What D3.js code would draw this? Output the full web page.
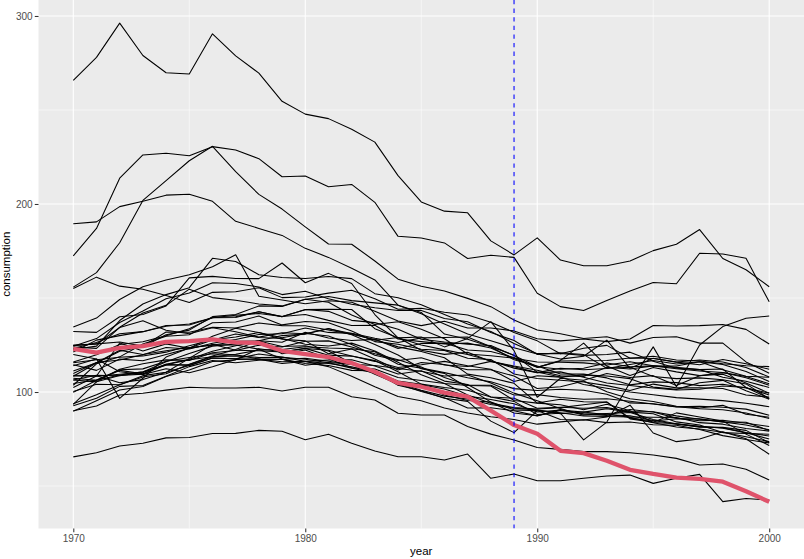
<!DOCTYPE html>
<html>
<head>
<meta charset="utf-8">
<script src="https://cdn.jsdelivr.net/npm/d3@7"></script>
<style>
  html, body { margin: 0; padding: 0; background: #ffffff; }
  svg { display: block; font-family: "Liberation Sans", Arial, Helvetica, sans-serif; }
</style>
</head>
<body>
<svg id="chart" width="804" height="559"></svg>
<script>
// Per-capita cigarette consumption (packs), 1970-2000
const years = [1970,1971,1972,1973,1974,1975,1976,1977,1978,1979,1980,1981,1982,1983,1984,1985,
               1986,1987,1988,1989,1990,1991,1992,1993,1994,1995,1996,1997,1998,1999,2000];

const alabama      = [89.8,95.4,101.1,102.9,108.2,111.7,116.2,117.1,123,121.4,123.2,119.6,119.1,116.3,113,114.5,116.3,114,112.1,105.6,108.6,107.9,109.1,108.5,107.1,102.6,101.4,104.9,106.2,100.7,96.2];
const arkansas     = [100.3,104.1,103.9,108,109.7,114.8,119.1,122.6,127.3,126.5,131.8,128.7,127.4,128,123.1,125.8,126,122.3,121.5,118.3,113.1,116.8,126,113.8,108.8,113,110.7,108.7,109.5,104.8,99.4];
const colorado     = [124.8,125.5,134.3,137.9,132.8,131,134.2,132,129.2,131.5,131,133.8,130.5,125.3,119.7,112.4,109.9,102.4,94.6,88.8,87.4,90.2,88.3,88.6,89.1,85.4,83.1,81.3,81.2,79.6,73];
const connecticut  = [120,117.6,110.8,109.3,112.4,110.2,113.4,117.3,117.5,117.4,118,116.4,114.7,114.1,112.5,111,108.5,109,104.8,99.4,95.3,91.2,87.6,88.3,86.5,83.6,81.4,80.3,78.6,76.2,73.6];
const delaware     = [155,161.1,156.3,154.7,151.3,147.6,153,153.3,155.5,150.2,150.5,152.6,154.1,149.6,144,144.5,142.4,141,137.1,131.7,127.2,120.3,123.3,124.8,118,119,117,116.5,115,114,113.5];
const georgia      = [109.9,115.7,117,119.8,123.7,122.9,125.9,127.9,130.6,131,134,131.7,131.2,128.6,126.3,128.8,129,129.3,124.1,117.1,113.8,109.6,109.5,107.5,103.8,105.4,105,103.4,104.1,102.1,99.4];
const idaho        = [102.4,108.5,126.1,121.8,125.6,123.3,125.1,125,122.8,117.5,115.2,114.1,111.5,111.3,103.6,100.7,96.7,95,84.5,78.4,90.1,85.4,85.1,86.7,93,78.2,73.6,75,78.9,75.1,66.9];
const illinois     = [124.8,125.6,126.6,124.4,131.9,131.8,134.4,134,136.7,135.3,135.2,133,130.7,127.9,124,121.6,118.2,109.5,107.6,104.6,94.1,96.1,94.8,94.6,85.7,83.9,88.9,86.7,84.5,77.6,71.6];
const indiana      = [134.6,139.3,149.2,156,159.6,162.4,166.6,173,150.9,148.9,146.9,148.5,147.7,143,137.8,135.3,137.6,134,134,132.5,128.3,127.2,128.2,126.8,128.2,135.4,135.1,135.3,135.9,133.3,125.5];
const iowa         = [108.5,108.4,109.4,110.6,116.1,120.5,124.4,125.5,127.1,124.2,124.6,121.8,115.3,109.5,104.3,100.3,97,91.5,91.6,90,87.3,90.7,88.3,87.5,90.7,89.4,86.1,84.7,85,83.4,81.7];
const kansas       = [114,117.5,96.6,107.3,118.6,123.4,127.7,130.9,129,128.5,125.4,124.5,126,121.8,115.8,109.2,104.5,98.4,94,91.7,91,91.7,93.2,94.7,86.1,84.6,85.8,85.7,84.1,82.5,79.9];
const kentucky     = [155.8,163.5,179.4,201.9,212.4,223,230.7,217.2,205.1,197.3,187.8,178.7,178.6,169.7,160,156.3,153.7,149.8,145.4,138.3,133,131,128.5,129.4,126,129,129.4,126,126,116,110];
const louisiana    = [115.9,119.8,125.3,126.7,129.9,133.6,139.6,140,142.7,140.1,143.8,144,143.9,133.7,128.9,125,122.4,120,116.6,112.7,110.3,110.7,107.8,104.8,103.5,102.1,101.1,101.5,103.2,102.4,96.7];
const maine        = [106.4,108.9,108.6,110.4,114.7,114.1,118.1,117.7,117.4,116.1,116.3,117,117.1,113.8,109.6,111.3,105.8,104,97.3,95,88,88.7,74.5,84,105,124,102.8,125,134.8,139.2,140.4];
const minnesota    = [104.5,106.4,111.8,112.3,116.4,118.4,120.3,119.8,117.5,115.2,116.3,113.5,108.4,102.8,97.6,95.3,91.5,88.8,86.8,85.4,82.9,84.1,85.2,83.7,84,82.6,82.3,80.1,76.8,74.7,72.9];
const mississippi  = [93.4,105.4,112.1,115,117.1,116.8,120.9,122.1,124.9,123.9,127,127.2,123.9,120.3,117.2,113.3,107.7,103.6,103.6,98.4,98.6,97.1,96.1,96.4,95.1,93.6,92.1,92.4,91.9,90.9,87.6];
const missouri     = [121.3,127.6,130,132.1,135.4,135.6,139.5,140.8,141.8,140.2,141.2,138.1,135.4,135.5,128.2,126.8,125.6,126,123.4,117.8,113.1,116.5,116.6,116.8,118.1,117.8,115.9,114.5,117.3,115,112.1];
const montana      = [111.2,115.6,122.2,119.9,121.9,123.7,124.9,127,127.2,120.3,122.3,117.7,112.9,112.2,107.7,106.1,104.5,103.5,103.2,95.5,94.1,93.2,90.6,93.5,90,83.8,83.1,81.8,80.7,78.3,75];
const nebraska     = [108.9,108.6,104.9,106.6,110.5,114.1,118.1,117.7,120.2,118.6,116.3,115.2,113.4,110.2,104.8,100.9,97.8,96.3,93.4,91.4,90.5,88.5,89.4,87.9,87.4,84.8,82.9,81.6,81,78.4,76.6];
const nevada       = [189.5,190.5,198.6,201.5,204.7,205.2,201.4,190.8,187,183.3,176.4,171.6,165.8,159.6,146.2,141.6,136.2,130.8,127.3,123.5,120.2,117.5,119,127.6,112.6,118,116,117,116,113,108];
const newHampshire = [265.7,278,296.2,279,269.8,269.1,290.5,278.8,269.6,254.6,247.8,245.4,239.8,232.9,215.1,201.1,196.2,195.3,180.4,172.9,182,170.2,167.2,167.2,169.7,175.2,178.6,186.4,171,165,156];
const newMexico    = [90,92.6,98.4,99.3,101,102.5,102.1,102.1,102.5,100.5,102.5,102.5,97.5,95.7,88.7,87.8,87.8,81.6,77.6,74.5,70.5,69.5,68.3,68.3,67.7,66.5,64.7,61.2,61.7,58.9,53.2];
const northCarolina= [172.4,187,213.7,226.1,227,225.7,230.5,228.7,224.1,214.5,214.9,209.2,210.4,200.9,182.8,181.9,179.3,171,172.7,171.6,152.5,145.4,143.3,148.7,153.7,158.2,157.6,173.8,173.4,171.1,148];
const northDakota  = [93.8,98.5,103.8,108.7,110.5,117.9,125.4,122.2,121.9,121.3,123.1,122.2,119.2,116.7,110.8,104.2,102.4,100.9,97.3,96.7,91.4,91.9,91.4,91.7,89.5,89.5,87.3,85.5,84.1,83.9,79.5];
const ohio         = [123.1,126.3,131,132.1,135,136.2,139.5,139.6,142.7,140,143.9,142.9,138.1,136.9,133.4,128.1,126.6,125.4,124.7,119.4,113.4,112.1,112.6,115.4,113.4,113.9,112.4,111.2,110.4,107.6,103.6];
const oklahoma     = [108.4,115.4,121.7,124.1,130.5,132.9,140.1,141.2,145.8,145.5,149.3,147.7,141,135.9,137.4,133.4,128.3,120.2,119.3,118,116,115.8,115.5,114.4,116.1,114,113.8,116.1,111.8,108.4,107.8];
const pennsylvania = [107.3,106.3,109,110.7,114.2,114.6,118.8,120.1,122.3,122.6,124.1,123.4,123,121.4,114.8,112.7,110.3,107.6,105.4,101.8,100.8,101.5,100.9,98.8,94.2,93.8,92.2,91.1,90.6,88.8,85.9];
const rhodeIsland  = [123.9,123.2,134.4,142,146.1,154.7,150.2,148.8,146.8,145.8,149.3,150.8,148.6,147.4,146.2,142.3,130.8,128.1,124.1,119.6,110.6,108,104,102,100,98.5,97,96.2,95.4,94,92.2];
const southCarolina= [103.6,115,118.7,125.5,129.7,130.5,136.8,137.2,140.4,135.7,137.5,136.8,132.5,126.8,125.4,122.7,122.1,118,117.3,109.6,107.2,106.3,105.3,103.4,100.8,104.2,102.2,102.3,101.9,98.4,97.3];
const southDakota  = [92.7,96.7,103,103.5,108.4,113.5,116.7,115.6,116.9,117.4,114.2,115.7,114.8,110.8,105.8,104.1,98.4,95.5,94.7,90.5,90.1,89,87.2,87,86.7,86.6,86.4,83.7,82.9,80.6,79.2];
const tennessee    = [99.8,106.3,111.5,109.7,114.8,117.4,121.7,124.6,127.3,130,130.8,133.6,131.1,127.5,129,122.2,120,121.1,116.2,113.4,110.3,112.6,111.8,112.5,114.6,116.8,114.9,116.1,114.6,110.9,105.6];
const texas        = [114.5,111.5,117.5,116.6,119.9,123.2,129.7,133.9,131.6,128.1,127.2,120.3,122.9,117.5,111.7,115.7,114.6,111.8,111.8,108.5,101.9,102.8,105.8,100.1,96.4,94.9,92.4,91.5,92.9,88.2,86.6];
const utah         = [65.5,67.7,71.3,72.7,75.6,75.8,77.9,78,79.6,79.1,74.6,77.5,72.7,68.6,65.6,65.6,63.8,67,54.1,56.4,52.8,52.8,54.1,55.3,55.8,51.4,54.1,56.2,41.7,43.4,42.5];
const vermont      = [122.6,124.4,138,146.8,151.8,155.5,171.1,169.4,162.4,160.9,160.4,161.4,160.3,152.3,150.1,146.4,141.2,136.2,132.2,125.8,120.4,120.5,119.5,119.9,121.2,116.3,112.6,111.9,112.2,102.4,98.4];
const virginia     = [124.3,128.4,137,143.1,149.6,152.7,158.1,157.7,155.9,151.8,153.6,149.6,146.7,144.8,143.4,143.4,139.1,137.4,131.7,127.4,120,120.9,119.9,112.6,113.1,108.2,107.1,107.5,106.5,104.3,96.4];
const westVirginia = [115.6,117.2,118.5,119.2,121.2,124.6,127.8,129.3,131.6,128.9,131.1,129.8,125.3,119.5,116.8,118.2,114.4,113.6,116.3,113.8,111.6,108.6,108.2,113.2,112.2,113.9,113.1,111.9,107.8,105.7,102.4];
const wisconsin    = [106.4,105.4,108.8,109.5,114.5,117.2,118.8,119.2,118.4,118.5,117.4,115.6,112.7,110.1,103.8,103.9,101.6,97.8,96,93.7,89.4,90.4,89.3,91.1,89.3,88.4,84.1,82.5,78.4,77.9,77.5];
const wyoming      = [132.2,131.7,140,141.2,145.8,160.7,161.5,160.4,160.3,168.6,158.1,163.1,157.7,141.2,128.8,129.3,124,128.5,137.4,122,97.2,107.3,106.3,109.8,107.7,108.7,103.5,108.6,110.3,108.2,104.4];
const california   = [123,121,123.5,124.4,126.7,127.1,128,126.4,126.1,121.9,120.2,118.6,115.4,110.8,104.8,102.8,99.7,97.5,90.1,82.4,77.8,68.7,67.5,63.4,58.6,56.4,54.5,53.8,52.3,47.2,41.6];

const controlStates = [alabama, arkansas, colorado, connecticut, delaware, georgia, idaho, illinois,
  indiana, iowa, kansas, kentucky, louisiana, maine, minnesota, mississippi, missouri, montana,
  nebraska, nevada, newHampshire, newMexico, northCarolina, northDakota, ohio, oklahoma,
  pennsylvania, rhodeIsland, southCarolina, southDakota, tennessee, texas, utah, vermont,
  virginia, westVirginia, wisconsin, wyoming];

const interventionYear = 1989;
const xMajorTicks = [1970, 1980, 1990, 2000];
const xMinorTicks = [1975, 1985, 1995];
const yMajorTicks = [100, 200, 300];
const yMinorTicks = [50, 150, 250];

// ---- layout ----
const panel = { left: 38.5, right: 804, top: 0, bottom: 528.5 };

const svg = d3.select("#chart");

const x = d3.scaleLinear().domain([1968.5, 2001.5]).range([panel.left, panel.right]);
const y = d3.scaleLinear().domain([27.4, 308.5]).range([panel.bottom, panel.top]);

// panel background
svg.append("rect")
  .attr("x", panel.left).attr("y", panel.top)
  .attr("width", panel.right - panel.left).attr("height", panel.bottom - panel.top)
  .attr("fill", "#EBEBEB");

const grid = svg.append("g");
// minor grid
grid.selectAll("line.xminor").data(xMinorTicks).join("line")
  .attr("class", "xminor")
  .attr("x1", d => x(d)).attr("x2", d => x(d))
  .attr("y1", panel.top).attr("y2", panel.bottom)
  .attr("stroke", "#ffffff").attr("stroke-width", 0.55);
grid.selectAll("line.yminor").data(yMinorTicks).join("line")
  .attr("class", "yminor")
  .attr("x1", panel.left).attr("x2", panel.right)
  .attr("y1", d => y(d)).attr("y2", d => y(d))
  .attr("stroke", "#ffffff").attr("stroke-width", 0.55);
// major grid
grid.selectAll("line.xmajor").data(xMajorTicks).join("line")
  .attr("class", "xmajor")
  .attr("x1", d => x(d)).attr("x2", d => x(d))
  .attr("y1", panel.top).attr("y2", panel.bottom)
  .attr("stroke", "#ffffff").attr("stroke-width", 1.1);
grid.selectAll("line.ymajor").data(yMajorTicks).join("line")
  .attr("class", "ymajor")
  .attr("x1", panel.left).attr("x2", panel.right)
  .attr("y1", d => y(d)).attr("y2", d => y(d))
  .attr("stroke", "#ffffff").attr("stroke-width", 1.1);

// clip to panel
svg.append("clipPath").attr("id", "panelClip")
  .append("rect")
  .attr("x", panel.left).attr("y", panel.top)
  .attr("width", panel.right - panel.left).attr("height", panel.bottom - panel.top);

const line = d3.line()
  .x((d, i) => x(years[i]))
  .y(d => y(d));

const plot = svg.append("g").attr("clip-path", "url(#panelClip)");

plot.selectAll("path.state").data(controlStates).join("path")
  .attr("class", "state")
  .attr("d", line)
  .attr("fill", "none")
  .attr("stroke", "#000000")
  .attr("stroke-width", 1.07)
  .attr("stroke-linejoin", "round");

plot.append("path")
  .datum(california)
  .attr("d", line)
  .attr("fill", "none")
  .attr("stroke", "#DF536B")
  .attr("stroke-width", 4.3)
  .attr("stroke-linejoin", "round");

plot.append("line")
  .attr("x1", x(interventionYear)).attr("x2", x(interventionYear))
  .attr("y1", panel.top).attr("y2", panel.bottom)
  .attr("stroke", "#0000FF")
  .attr("stroke-width", 1.07)
  .attr("stroke-dasharray", "4.3,4.3");

// ---- axes ----
const xAxis = d3.axisBottom(x).tickValues(xMajorTicks).tickFormat(d3.format("d"))
  .tickSizeInner(3.7).tickSizeOuter(0).tickPadding(3);
const gx = svg.append("g").attr("transform", `translate(0,${panel.bottom})`).call(xAxis);
gx.select(".domain").remove();
gx.selectAll(".tick line").attr("stroke", "#333333").attr("stroke-width", 1.07);
gx.selectAll(".tick text").attr("fill", "#4D4D4D").attr("font-size", "10px")
  .attr("font-family", "Liberation Sans, Arial, sans-serif");

const yAxis = d3.axisLeft(y).tickValues(yMajorTicks)
  .tickSizeInner(3.7).tickSizeOuter(0).tickPadding(2.2);
const gy = svg.append("g").attr("transform", `translate(${panel.left},0)`).call(yAxis);
gy.select(".domain").remove();
gy.selectAll(".tick line").attr("stroke", "#333333").attr("stroke-width", 1.07);
gy.selectAll(".tick text").attr("fill", "#4D4D4D").attr("font-size", "10px")
  .attr("font-family", "Liberation Sans, Arial, sans-serif");

// axis titles
svg.append("text")
  .attr("x", (panel.left + panel.right) / 2).attr("y", 555)
  .attr("text-anchor", "middle")
  .attr("font-size", "11.5px").attr("fill", "#000000")
  .text("year");

svg.append("text")
  .attr("transform", `translate(10,${(panel.top + panel.bottom) / 2}) rotate(-90)`)
  .attr("text-anchor", "middle")
  .attr("font-size", "11.5px").attr("fill", "#000000")
  .text("consumption");
</script>
</body>
</html>
